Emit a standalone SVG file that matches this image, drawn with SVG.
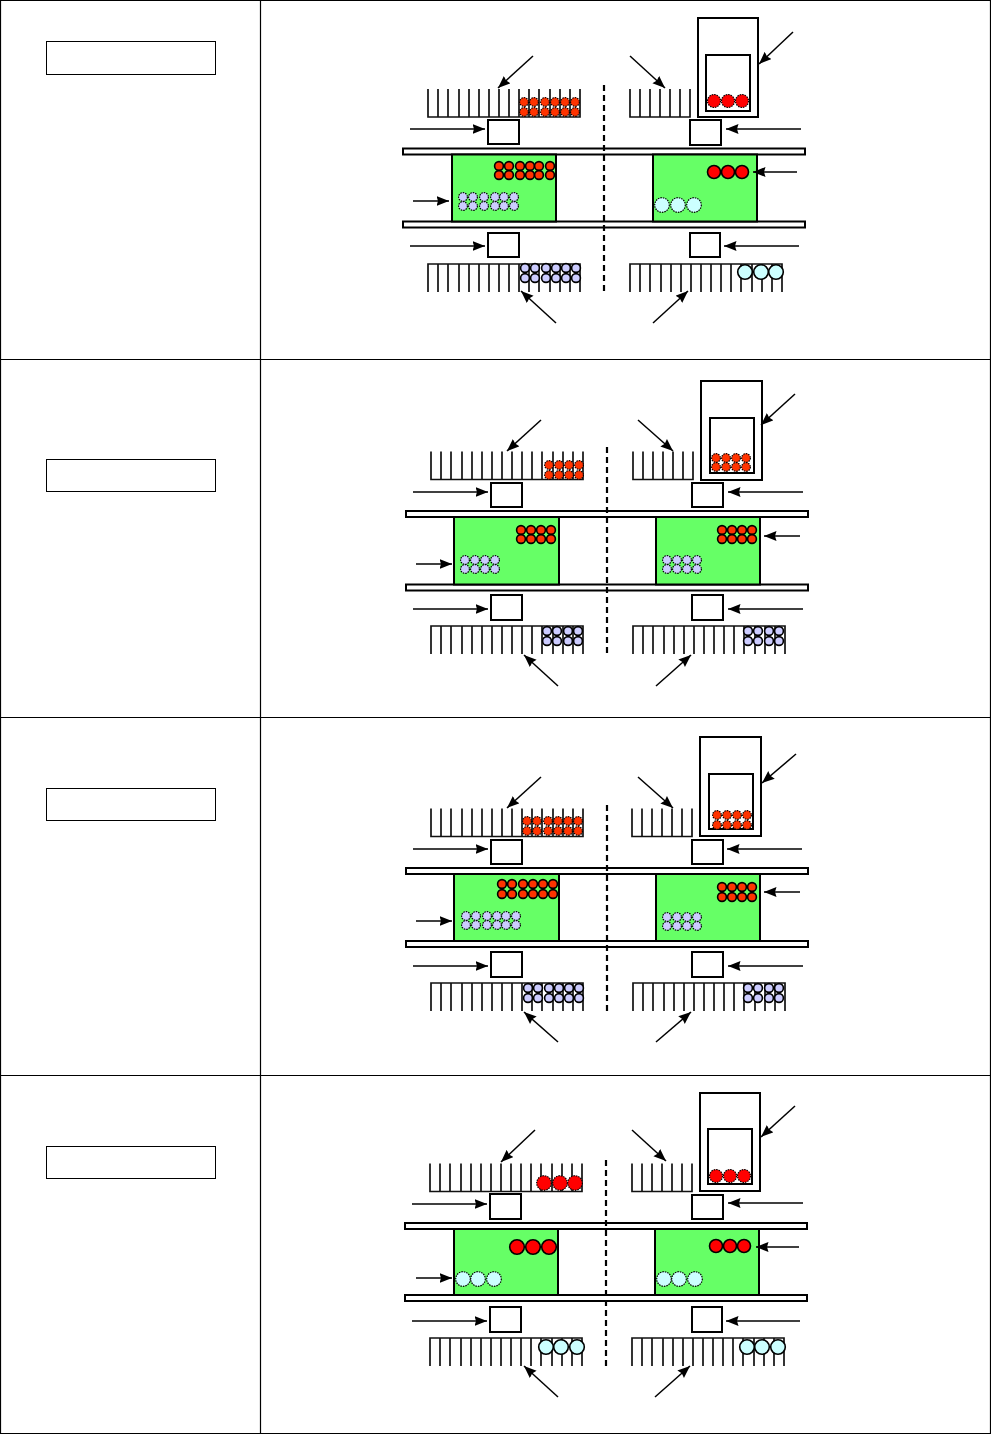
<svg xmlns="http://www.w3.org/2000/svg" xmlns:xlink="http://www.w3.org/1999/xlink" width="991" height="1434" viewBox="0 0 991 1434">
<style>
.grid{fill:none;stroke:#000;stroke-width:1.2}
.lab{fill:#fff;stroke:#000;stroke-width:1}
.bx{fill:#fff;stroke:#000;stroke-width:2}
.bd{fill:#fff;stroke:#000;stroke-width:2}
.gr{fill:#66ff66;stroke:#000;stroke-width:2}
.cas{fill:none;stroke:#000;stroke-width:2}
.dash{fill:none;stroke:#000;stroke-width:2.2;stroke-dasharray:6 4}
.ar{fill:none;stroke:#000;stroke-width:1.5;marker-end:url(#ah)}
.cb{fill:none;stroke:#111;stroke-width:1.7}
.sm circle{r:4.4px}
.md circle{r:6.5px}
.lg circle{r:7.3px}
.red{fill:#ff0000;stroke:#000}
.or{fill:#ff3300;stroke:#000}
.lav{fill:#ccccff;stroke:#000}
.cy{fill:#ccffff;stroke:#000}
.sol{stroke-width:1.6}
.dot{stroke-width:1.2;stroke-dasharray:1.5 1}
</style>
<defs>
<marker id="ah" markerUnits="userSpaceOnUse" markerWidth="14" markerHeight="12" refX="12.5" refY="5" orient="auto"><path d="M0,0L12.5,5L0,10L1.5,5Z" fill="#000"/></marker>
<path id="c16" class="cb" d="M0,0V28H152V0M10,0V28M20,0V28M31,0V28M41,0V28M51,0V28M61,0V28M71,0V28M81,0V28M91,0V28M101,0V28M111,0V28M122,0V28M132,0V28M142,0V28"/>
<path id="c7" class="cb" d="M0,0V28H60V0M10,0V28M20,0V28M30,0V28M40,0V28M50,0V28"/>
</defs>
<rect width="991" height="1434" fill="#fff"/>
<g id="table">
<path class="grid" d="M0.5,0.5H990.5V1433.5H0.5ZM260.5,0.5V1433.5M0.5,359.5H990.5M0.5,717.5H990.5M0.5,1075.5H990.5"/>
</g>
<g id="label-1"><rect class="lab" x="46.5" y="41.5" width="169" height="33"/></g>
<g id="label-2"><rect class="lab" x="46.5" y="459.5" width="169" height="32"/></g>
<g id="label-3"><rect class="lab" x="46.5" y="788.5" width="169" height="32"/></g>
<g id="label-4"><rect class="lab" x="46.5" y="1146.5" width="169" height="32"/></g>

<g id="panel-1">
<g id="p1-upper-band"><rect class="bd" x="403" y="148.5" width="402" height="6"/></g>
<g id="p1-lower-band"><rect class="bd" x="403" y="221.5" width="402" height="6"/></g>
<g id="p1-chamber-l"><rect class="gr" x="452" y="154.5" width="104" height="67"/>
<g class="sm or sol"><circle cx="499" cy="166"/><circle cx="509" cy="166"/><circle cx="520" cy="166"/><circle cx="530" cy="166"/><circle cx="539" cy="166"/><circle cx="550" cy="166"/><circle cx="499" cy="175"/><circle cx="509" cy="175"/><circle cx="520" cy="175"/><circle cx="530" cy="175"/><circle cx="539" cy="175"/><circle cx="550" cy="175"/></g>
<g class="sm lav dot"><circle cx="463" cy="197"/><circle cx="473" cy="197"/><circle cx="484" cy="197"/><circle cx="495" cy="197"/><circle cx="504" cy="197"/><circle cx="514" cy="197"/><circle cx="463" cy="206"/><circle cx="473" cy="206"/><circle cx="484" cy="206"/><circle cx="495" cy="206"/><circle cx="504" cy="206"/><circle cx="514" cy="206"/></g></g>
<g id="p1-chamber-r"><rect class="gr" x="653" y="154.5" width="104" height="67"/>
<g class="md red sol"><circle cx="714" cy="172"/><circle cx="728" cy="172"/><circle cx="742" cy="172"/></g>
<g class="lg cy dot"><circle cx="662" cy="205"/><circle cx="678" cy="205"/><circle cx="694" cy="205"/></g></g>
<g id="p1-comb-tl"><use xlink:href="#c16" href="#c16" x="428" y="89"/>
<g class="sm or dot"><circle cx="524" cy="102"/><circle cx="534" cy="102"/><circle cx="545" cy="102"/><circle cx="555" cy="102"/><circle cx="565" cy="102"/><circle cx="575" cy="102"/><circle cx="524" cy="112"/><circle cx="534" cy="112"/><circle cx="545" cy="112"/><circle cx="555" cy="112"/><circle cx="565" cy="112"/><circle cx="575" cy="112"/></g></g>
<g id="p1-comb-tr"><use href="#c7" x="630" y="89"/></g>
<g id="p1-cassette"><rect class="cas" x="698" y="18" width="60" height="99"/><rect class="cas" x="706" y="55" width="44" height="56"/>
<g class="md red dot"><circle cx="714" cy="101"/><circle cx="728" cy="101"/><circle cx="742" cy="101"/></g></g>
<g id="p1-box-tl"><rect class="bx" x="488" y="120" width="31" height="24"/></g>
<g id="p1-box-tr"><rect class="bx" x="690" y="120" width="31" height="25"/></g>
<g id="p1-box-bl"><rect class="bx" x="488" y="233" width="31" height="24"/></g>
<g id="p1-box-br"><rect class="bx" x="690" y="233" width="30" height="24"/></g>
<g id="p1-comb-bl"><use href="#c16" transform="translate(428,292) scale(1,-1)" />
<g class="sm lav sol"><circle cx="525" cy="268"/><circle cx="535" cy="268"/><circle cx="546" cy="268"/><circle cx="556" cy="268"/><circle cx="566" cy="268"/><circle cx="576" cy="268"/><circle cx="525" cy="278"/><circle cx="535" cy="278"/><circle cx="546" cy="278"/><circle cx="556" cy="278"/><circle cx="566" cy="278"/><circle cx="576" cy="278"/></g></g>
<g id="p1-comb-br"><use href="#c16" transform="translate(630,292) scale(1,-1)"/>
<g class="lg cy sol"><circle cx="745" cy="272"/><circle cx="761" cy="272"/><circle cx="776" cy="272"/></g></g>
<g id="p1-divider"><path class="dash" d="M604,85V291"/></g>
</g>

<g id="panel-2">
<g id="p2-upper-band"><rect class="bd" x="406" y="511" width="402" height="6"/></g>
<g id="p2-lower-band"><rect class="bd" x="406" y="584.5" width="402" height="6"/></g>
<g id="p2-chamber-l"><rect class="gr" x="454" y="517" width="105" height="67.5"/>
<g class="sm or sol"><circle cx="521" cy="530"/><circle cx="531" cy="530"/><circle cx="541" cy="530"/><circle cx="551" cy="530"/><circle cx="521" cy="539"/><circle cx="531" cy="539"/><circle cx="541" cy="539"/><circle cx="551" cy="539"/></g>
<g class="sm lav dot"><circle cx="465" cy="560"/><circle cx="475" cy="560"/><circle cx="485" cy="560"/><circle cx="495" cy="560"/><circle cx="465" cy="569"/><circle cx="475" cy="569"/><circle cx="485" cy="569"/><circle cx="495" cy="569"/></g></g>
<g id="p2-chamber-r"><rect class="gr" x="656" y="517" width="104" height="67.5"/>
<g class="sm or sol"><circle cx="722" cy="530"/><circle cx="732" cy="530"/><circle cx="742" cy="530"/><circle cx="752" cy="530"/><circle cx="722" cy="539"/><circle cx="732" cy="539"/><circle cx="742" cy="539"/><circle cx="752" cy="539"/></g>
<g class="sm lav dot"><circle cx="667" cy="560"/><circle cx="677" cy="560"/><circle cx="687" cy="560"/><circle cx="697" cy="560"/><circle cx="667" cy="569"/><circle cx="677" cy="569"/><circle cx="687" cy="569"/><circle cx="697" cy="569"/></g></g>
<g id="p2-comb-tl"><use href="#c16" x="431" y="451.5"/>
<g class="sm or dot"><circle cx="549" cy="465"/><circle cx="559" cy="465"/><circle cx="569" cy="465"/><circle cx="579" cy="465"/><circle cx="549" cy="475"/><circle cx="559" cy="475"/><circle cx="569" cy="475"/><circle cx="579" cy="475"/></g></g>
<g id="p2-comb-tr"><use href="#c7" x="633" y="451.5"/></g>
<g id="p2-cassette"><rect class="cas" x="701" y="381" width="61" height="99"/><rect class="cas" x="710" y="418" width="44" height="55"/>
<g class="sm or dot"><circle cx="716" cy="458"/><circle cx="726" cy="458"/><circle cx="736" cy="458"/><circle cx="746" cy="458"/><circle cx="716" cy="467"/><circle cx="726" cy="467"/><circle cx="736" cy="467"/><circle cx="746" cy="467"/></g></g>
<g id="p2-box-tl"><rect class="bx" x="491" y="483" width="31" height="24"/></g>
<g id="p2-box-tr"><rect class="bx" x="692" y="483" width="31" height="24"/></g>
<g id="p2-box-bl"><rect class="bx" x="491" y="595" width="31" height="25"/></g>
<g id="p2-box-br"><rect class="bx" x="692" y="595" width="31" height="25"/></g>
<g id="p2-comb-bl"><use href="#c16" transform="translate(431,654) scale(1,-1)"/>
<g class="sm lav sol"><circle cx="547" cy="631"/><circle cx="557" cy="631"/><circle cx="568" cy="631"/><circle cx="578" cy="631"/><circle cx="547" cy="641"/><circle cx="557" cy="641"/><circle cx="568" cy="641"/><circle cx="578" cy="641"/></g></g>
<g id="p2-comb-br"><use href="#c16" transform="translate(633,654) scale(1,-1)"/>
<g class="sm lav sol"><circle cx="748" cy="631"/><circle cx="758" cy="631"/><circle cx="769" cy="631"/><circle cx="779" cy="631"/><circle cx="748" cy="641"/><circle cx="758" cy="641"/><circle cx="769" cy="641"/><circle cx="779" cy="641"/></g></g>
<g id="p2-divider"><path class="dash" d="M607,447V654"/></g>
</g>

<g id="panel-3">
<g id="p3-upper-band"><rect class="bd" x="406" y="868" width="402" height="6"/></g>
<g id="p3-lower-band"><rect class="bd" x="406" y="941" width="402" height="6"/></g>
<g id="p3-chamber-l"><rect class="gr" x="454" y="874" width="105" height="67"/>
<g class="sm or sol"><circle cx="502" cy="884"/><circle cx="512" cy="884"/><circle cx="523" cy="884"/><circle cx="533" cy="884"/><circle cx="543" cy="884"/><circle cx="553" cy="884"/><circle cx="502" cy="894"/><circle cx="512" cy="894"/><circle cx="523" cy="894"/><circle cx="533" cy="894"/><circle cx="543" cy="894"/><circle cx="553" cy="894"/></g>
<g class="sm lav dot"><circle cx="466" cy="916"/><circle cx="476" cy="916"/><circle cx="487" cy="916"/><circle cx="497" cy="916"/><circle cx="506" cy="916"/><circle cx="516" cy="916"/><circle cx="466" cy="925"/><circle cx="476" cy="925"/><circle cx="487" cy="925"/><circle cx="497" cy="925"/><circle cx="506" cy="925"/><circle cx="516" cy="925"/></g></g>
<g id="p3-chamber-r"><rect class="gr" x="656" y="874" width="104" height="67"/>
<g class="sm or sol"><circle cx="722" cy="887"/><circle cx="732" cy="887"/><circle cx="742" cy="887"/><circle cx="752" cy="887"/><circle cx="722" cy="897"/><circle cx="732" cy="897"/><circle cx="742" cy="897"/><circle cx="752" cy="897"/></g>
<g class="sm lav dot"><circle cx="667" cy="917"/><circle cx="677" cy="917"/><circle cx="687" cy="917"/><circle cx="697" cy="917"/><circle cx="667" cy="926"/><circle cx="677" cy="926"/><circle cx="687" cy="926"/><circle cx="697" cy="926"/></g></g>
<g id="p3-comb-tl"><use href="#c16" x="431" y="808.5"/>
<g class="sm or dot"><circle cx="527" cy="821"/><circle cx="537" cy="821"/><circle cx="548" cy="821"/><circle cx="558" cy="821"/><circle cx="568" cy="821"/><circle cx="578" cy="821"/><circle cx="527" cy="831"/><circle cx="537" cy="831"/><circle cx="548" cy="831"/><circle cx="558" cy="831"/><circle cx="568" cy="831"/><circle cx="578" cy="831"/></g></g>
<g id="p3-comb-tr"><use href="#c7" x="632" y="808.5"/></g>
<g id="p3-cassette"><rect class="cas" x="700" y="737" width="61" height="99"/><rect class="cas" x="709" y="774" width="44" height="55"/>
<g class="sm or dot"><circle cx="717" cy="815"/><circle cx="727" cy="815"/><circle cx="737" cy="815"/><circle cx="747" cy="815"/><circle cx="717" cy="825"/><circle cx="727" cy="825"/><circle cx="737" cy="825"/><circle cx="747" cy="825"/></g></g>
<g id="p3-box-tl"><rect class="bx" x="491" y="840" width="31" height="24"/></g>
<g id="p3-box-tr"><rect class="bx" x="692" y="840" width="31" height="24"/></g>
<g id="p3-box-bl"><rect class="bx" x="491" y="952" width="31" height="25"/></g>
<g id="p3-box-br"><rect class="bx" x="692" y="952" width="31" height="25"/></g>
<g id="p3-comb-bl"><use href="#c16" transform="translate(431,1011) scale(1,-1)"/>
<g class="sm lav sol"><circle cx="528" cy="988"/><circle cx="538" cy="988"/><circle cx="549" cy="988"/><circle cx="559" cy="988"/><circle cx="569" cy="988"/><circle cx="579" cy="988"/><circle cx="528" cy="998"/><circle cx="538" cy="998"/><circle cx="549" cy="998"/><circle cx="559" cy="998"/><circle cx="569" cy="998"/><circle cx="579" cy="998"/></g></g>
<g id="p3-comb-br"><use href="#c16" transform="translate(633,1011) scale(1,-1)"/>
<g class="sm lav sol"><circle cx="748" cy="988"/><circle cx="758" cy="988"/><circle cx="769" cy="988"/><circle cx="779" cy="988"/><circle cx="748" cy="998"/><circle cx="758" cy="998"/><circle cx="769" cy="998"/><circle cx="779" cy="998"/></g></g>
<g id="p3-divider"><path class="dash" d="M607,805V1011"/></g>
</g>

<g id="panel-4">
<g id="p4-upper-band"><rect class="bd" x="405" y="1223" width="402" height="6"/></g>
<g id="p4-lower-band"><rect class="bd" x="405" y="1295" width="402" height="6"/></g>
<g id="p4-chamber-l"><rect class="gr" x="454" y="1229" width="104" height="66"/>
<g class="lg red sol"><circle cx="517" cy="1247"/><circle cx="533" cy="1247"/><circle cx="549" cy="1247"/></g>
<g class="lg cy dot"><circle cx="463" cy="1279"/><circle cx="478" cy="1279"/><circle cx="494" cy="1279"/></g></g>
<g id="p4-chamber-r"><rect class="gr" x="655" y="1229" width="104" height="66"/>
<g class="md red sol"><circle cx="716" cy="1246"/><circle cx="730" cy="1246"/><circle cx="744" cy="1246"/></g>
<g class="lg cy dot"><circle cx="664" cy="1279"/><circle cx="679" cy="1279"/><circle cx="695" cy="1279"/></g></g>
<g id="p4-comb-tl"><use href="#c16" x="430" y="1163.5"/>
<g class="lg red dot"><circle cx="544" cy="1183"/><circle cx="560" cy="1183"/><circle cx="575" cy="1183"/></g></g>
<g id="p4-comb-tr"><use href="#c7" x="632" y="1163.5"/></g>
<g id="p4-cassette"><rect class="cas" x="700" y="1093" width="60" height="98"/><rect class="cas" x="708" y="1129" width="44" height="55"/>
<g class="md red dot"><circle cx="716" cy="1176"/><circle cx="730" cy="1176"/><circle cx="744" cy="1176"/></g></g>
<g id="p4-box-tl"><rect class="bx" x="490" y="1194" width="31" height="25"/></g>
<g id="p4-box-tr"><rect class="bx" x="692" y="1195" width="31" height="24"/></g>
<g id="p4-box-bl"><rect class="bx" x="490" y="1307" width="31" height="25"/></g>
<g id="p4-box-br"><rect class="bx" x="692" y="1307" width="30" height="25"/></g>
<g id="p4-comb-bl"><use href="#c16" transform="translate(430,1366) scale(1,-1)"/>
<g class="lg cy sol"><circle cx="546" cy="1347"/><circle cx="561" cy="1347"/><circle cx="577" cy="1347"/></g></g>
<g id="p4-comb-br"><use href="#c16" transform="translate(632,1366) scale(1,-1)"/>
<g class="lg cy sol"><circle cx="747" cy="1347"/><circle cx="762" cy="1347"/><circle cx="778" cy="1347"/></g></g>
<g id="p4-divider"><path class="dash" d="M606,1160V1366"/></g>
</g>

<g id="connectors">
<line class="ar" x1="533" y1="56" x2="498" y2="88"/>
<line class="ar" x1="630" y1="56" x2="665" y2="88"/>
<line class="ar" x1="793" y1="32" x2="759" y2="64"/>
<line class="ar" x1="410" y1="129" x2="485" y2="129"/>
<line class="ar" x1="801" y1="129" x2="726" y2="129"/>
<line class="ar" x1="797" y1="172" x2="753" y2="172"/>
<line class="ar" x1="413" y1="201" x2="449" y2="201"/>
<line class="ar" x1="410" y1="246" x2="485" y2="246"/>
<line class="ar" x1="799" y1="246" x2="724" y2="246"/>
<line class="ar" x1="556" y1="323" x2="521" y2="291"/>
<line class="ar" x1="653" y1="323" x2="688" y2="291"/>

<line class="ar" x1="541" y1="420" x2="507" y2="451"/>
<line class="ar" x1="638" y1="420" x2="673" y2="451"/>
<line class="ar" x1="795" y1="394" x2="761" y2="425"/>
<line class="ar" x1="413" y1="492" x2="488" y2="492"/>
<line class="ar" x1="803" y1="492" x2="728" y2="492"/>
<line class="ar" x1="800" y1="536" x2="764" y2="536"/>
<line class="ar" x1="416" y1="564" x2="452" y2="564"/>
<line class="ar" x1="413" y1="609" x2="488" y2="609"/>
<line class="ar" x1="803" y1="609" x2="728" y2="609"/>
<line class="ar" x1="558" y1="686" x2="524" y2="655"/>
<line class="ar" x1="656" y1="686" x2="691" y2="655"/>

<line class="ar" x1="541" y1="777" x2="507" y2="808"/>
<line class="ar" x1="638" y1="777" x2="673" y2="808"/>
<line class="ar" x1="796" y1="754" x2="762" y2="783"/>
<line class="ar" x1="413" y1="849" x2="488" y2="849"/>
<line class="ar" x1="802" y1="849" x2="727" y2="849"/>
<line class="ar" x1="800" y1="892" x2="764" y2="892"/>
<line class="ar" x1="416" y1="921" x2="452" y2="921"/>
<line class="ar" x1="413" y1="966" x2="488" y2="966"/>
<line class="ar" x1="803" y1="966" x2="728" y2="966"/>
<line class="ar" x1="558" y1="1042" x2="524" y2="1012"/>
<line class="ar" x1="656" y1="1042" x2="691" y2="1012"/>

<line class="ar" x1="535" y1="1130" x2="501" y2="1162"/>
<line class="ar" x1="632" y1="1130" x2="666" y2="1161"/>
<line class="ar" x1="795" y1="1106" x2="761" y2="1137"/>
<line class="ar" x1="412" y1="1204" x2="487" y2="1204"/>
<line class="ar" x1="803" y1="1203" x2="728" y2="1203"/>
<line class="ar" x1="799" y1="1247" x2="756" y2="1247"/>
<line class="ar" x1="416" y1="1278" x2="452" y2="1278"/>
<line class="ar" x1="412" y1="1321" x2="487" y2="1321"/>
<line class="ar" x1="800" y1="1321" x2="726" y2="1321"/>
<line class="ar" x1="558" y1="1397" x2="524" y2="1366"/>
<line class="ar" x1="655" y1="1397" x2="690" y2="1366"/>
</g>
</svg>
